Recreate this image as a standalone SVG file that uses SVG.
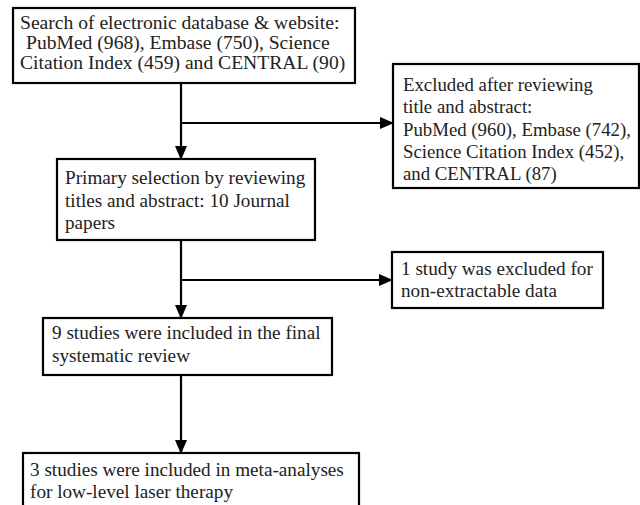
<svg xmlns="http://www.w3.org/2000/svg" width="640" height="505" viewBox="0 0 640 505">
<defs>
<marker id="ah" markerWidth="14" markerHeight="12" refX="13" refY="6" orient="auto" markerUnits="userSpaceOnUse">
<path d="M0,0 L14,6 L0,12 Z" fill="#000"/>
</marker>
<style>
.box{fill:#fff;stroke:#000;stroke-width:2.2}
.t{font-family:"Liberation Serif","Times New Roman",serif;font-size:19.2px;fill:#222}
.s{font-size:18.8px}
.l{font-size:19.6px}
.ln{fill:none;stroke:#000;stroke-width:2.2}
</style>
</defs>
<rect width="640" height="505" fill="#fff"/>
<g id="connectors">
<line class="ln" x1="181" y1="83" x2="181" y2="159" marker-end="url(#ah)"/>
<line class="ln" x1="181" y1="123" x2="393" y2="123" marker-end="url(#ah)"/>
<line class="ln" x1="181" y1="240" x2="181" y2="318" marker-end="url(#ah)"/>
<line class="ln" x1="181" y1="280" x2="392" y2="280" marker-end="url(#ah)"/>
<line class="ln" x1="181" y1="375" x2="181" y2="453" marker-end="url(#ah)"/>
</g>
<g id="search">
<rect class="box" x="13" y="8" width="342" height="75"/>
<text class="t l" x="20" y="29">Search of electronic database &amp; website:</text>
<text class="t l" x="26" y="49">PubMed (968), Embase (750), Science</text>
<text class="t l" x="20" y="69">Citation Index (459) and CENTRAL (90)</text>
</g>
<g id="excluded1">
<rect class="box" x="393" y="64" width="246" height="124"/>
<text class="t s" x="403" y="91">Excluded after reviewing</text>
<text class="t s" x="403" y="113">title and abstract:</text>
<text class="t s" x="403" y="136">PubMed (960), Embase (742),</text>
<text class="t s" x="403" y="158">Science Citation Index (452),</text>
<text class="t s" x="403" y="180">and CENTRAL (87)</text>
</g>
<g id="primary">
<rect class="box" x="57" y="159" width="258" height="81"/>
<text class="t" x="65" y="184">Primary selection by reviewing</text>
<text class="t" x="65" y="207">titles and abstract: 10 Journal</text>
<text class="t" x="65" y="229">papers</text>
</g>
<g id="excluded2">
<rect class="box" x="392" y="252" width="211" height="56"/>
<text class="t" x="401" y="275">1 study was excluded for</text>
<text class="t" x="401" y="297">non-extractable data</text>
</g>
<g id="included">
<rect class="box" x="43" y="318" width="289" height="57"/>
<text class="t" x="52" y="339">9 studies were included in the final</text>
<text class="t" x="52" y="362">systematic review</text>
</g>
<g id="meta">
<rect class="box" x="23" y="453" width="336" height="60"/>
<text class="t" x="30" y="476">3 studies were included in meta-analyses</text>
<text class="t" x="30" y="498">for low-level laser therapy</text>
</g>
</svg>
